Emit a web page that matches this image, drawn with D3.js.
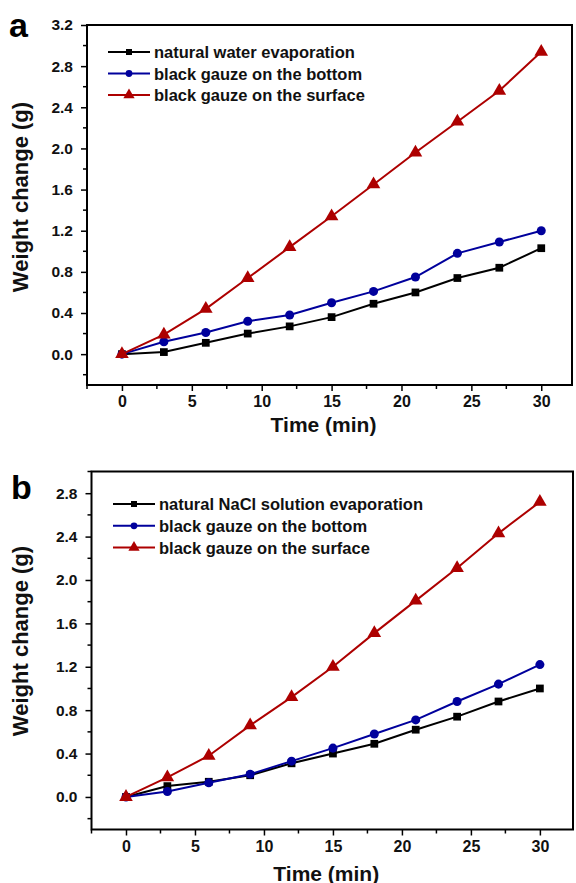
<!DOCTYPE html>
<html>
<head>
<meta charset="utf-8">
<script src="https://cdn.jsdelivr.net/npm/d3@7"></script>
<style>
  body { margin: 0; background: #fff; }
  svg { display: block; font-family: Arial, "Liberation Sans", sans-serif; }
</style>
</head>
<body>
<svg id="chart" width="576" height="883"></svg>
<script>
const timeMin = [0, 3, 6, 9, 12, 15, 18, 21, 24, 27, 30];

// panel a
const waterA = [0, 0.02, 0.11, 0.2, 0.27, 0.36, 0.49, 0.6, 0.74, 0.84, 1.03];
const bottomA = [0, 0.12, 0.21, 0.32, 0.38, 0.5, 0.61, 0.75, 0.98, 1.09, 1.2];
const surfaceA = [0, 0.19, 0.44, 0.74, 1.04, 1.34, 1.65, 1.96, 2.26, 2.56, 2.94];
const labelsA = ["natural water evaporation", "black gauze on the bottom", "black gauze on the surface"];

// panel b
const naclB = [0, 0.1, 0.14, 0.2, 0.31, 0.4, 0.49, 0.62, 0.74, 0.88, 1.0];
const bottomB = [0, 0.05, 0.13, 0.21, 0.33, 0.45, 0.58, 0.71, 0.88, 1.04, 1.22];
const surfaceB = [0, 0.18, 0.38, 0.66, 0.92, 1.2, 1.51, 1.81, 2.11, 2.43, 2.72];
const labelsB = ["natural NaCl solution evaporation", "black gauze on the bottom", "black gauze on the surface"];

const xTicks = [0, 5, 10, 15, 20, 25, 30];
const yTicksA = [0, 0.4, 0.8, 1.2, 1.6, 2.0, 2.4, 2.8, 3.2];
const yTicksB = [0, 0.4, 0.8, 1.2, 1.6, 2.0, 2.4, 2.8];

const colors = ["#000000", "#00009c", "#ad0000"];
const shapes = [d3.symbolSquare, d3.symbolCircle, d3.symbolTriangle];
const markerSize = [60, 64, 80];
const legendSize = [36, 36, 55];

const svg = d3.select("#chart");

function drawPanel(opt) {
  const g = svg.append("g");
  const x = d3.scaleLinear().domain(opt.xDomain).range(opt.xRange);
  const y = d3.scaleLinear().domain(opt.yDomain).range(opt.yRange);
  const [left, right] = opt.xRange;
  const [bottom, top] = opt.yRange;

  // minor ticks
  const xMinor = d3.range(-2.5, opt.xDomain[1] + 0.01, 2.5).filter(v => v % 5 !== 0);
  g.selectAll(".xminor").data(xMinor).enter().append("line")
    .attr("x1", d => x(d)).attr("x2", d => x(d))
    .attr("y1", bottom).attr("y2", bottom + 4)
    .attr("stroke", "#000").attr("stroke-width", 1.5);
  const yMinor = d3.range(-0.2, opt.yDomain[1] + 0.01, 0.4);
  g.selectAll(".yminor").data(yMinor).enter().append("line")
    .attr("x1", left - 4).attr("x2", left)
    .attr("y1", d => y(d)).attr("y2", d => y(d))
    .attr("stroke", "#000").attr("stroke-width", 1.5);

  // axes
  const xAxis = d3.axisBottom(x).tickValues(xTicks).tickSize(6).tickPadding(5).tickFormat(d3.format("d"));
  const yAxis = d3.axisLeft(y).tickValues(opt.yTicks).tickSize(6).tickPadding(8).tickFormat(d3.format(".1f"));
  const gx = g.append("g").attr("transform", `translate(0,${bottom})`).call(xAxis);
  const gy = g.append("g").attr("transform", `translate(${left},0)`).call(yAxis);
  [gx, gy].forEach(a => {
    a.select(".domain").remove();
    a.selectAll(".tick line").attr("stroke", "#000").attr("stroke-width", 1.5);
    a.selectAll("text").attr("fill", "#111").attr("font-weight", "bold")
      .attr("font-family", "Arial, 'Liberation Sans', sans-serif");
  });
  gx.selectAll("text").attr("font-size", 16);
  gy.selectAll("text").attr("font-size", 15.5);

  // frame
  g.append("rect")
    .attr("x", left).attr("y", top)
    .attr("width", right - left).attr("height", bottom - top)
    .attr("fill", "none").attr("stroke", "#000").attr("stroke-width", 2);

  // series
  const line = d3.line().x((d, i) => x(timeMin[i])).y(d => y(d));
  opt.series.forEach((s, k) => {
    g.append("path").datum(s)
      .attr("d", line).attr("fill", "none")
      .attr("stroke", colors[k]).attr("stroke-width", 2);
    g.selectAll(".m" + k).data(s).enter().append("path")
      .attr("transform", (d, i) => `translate(${x(timeMin[i])},${y(d)})`)
      .attr("d", d3.symbol().type(shapes[k]).size(markerSize[k]))
      .attr("fill", colors[k]);
  });

  // legend
  opt.labels.forEach((lab, k) => {
    const ly = opt.legend.y + k * opt.legend.dy;
    const lx = opt.legend.x;
    g.append("line")
      .attr("x1", lx).attr("x2", lx + 42)
      .attr("y1", ly).attr("y2", ly)
      .attr("stroke", colors[k]).attr("stroke-width", 2);
    g.append("path")
      .attr("transform", `translate(${lx + 21},${ly})`)
      .attr("d", d3.symbol().type(shapes[k]).size(legendSize[k]))
      .attr("fill", colors[k]);
    g.append("text")
      .attr("x", lx + 46).attr("y", ly + 6)
      .attr("font-size", 16.5).attr("font-weight", "bold")
      .attr("fill", "#111")
      .text(lab);
  });

  // axis titles
  g.append("text")
    .attr("x", (left + right) / 2 - 6).attr("y", bottom + opt.xTitleOffset)
    .attr("text-anchor", "middle")
    .attr("font-size", 21).attr("font-weight", "bold").attr("fill", "#111")
    .text("Time (min)");
  g.append("text")
    .attr("transform", `translate(28,${opt.yTitleY}) rotate(-90)`)
    .attr("text-anchor", "middle")
    .attr("font-size", 22).attr("font-weight", "bold").attr("fill", "#111")
    .text("Weight change (g)");

  g.append("text")
    .attr("x", opt.letter[0]).attr("y", opt.letter[1])
    .attr("font-size", 34).attr("font-weight", "bold").attr("fill", "#000")
    .text(opt.letterText);
}

drawPanel({
  xDomain: [-2.5, 32.2], xRange: [87, 572],
  yDomain: [-0.3, 3.2], yRange: [385, 25],
  yTicks: yTicksA,
  series: [waterA, bottomA, surfaceA],
  labels: labelsA,
  legend: { x: 108, y: 52, dy: 21.5 },
  xTitleOffset: 47, yTitleY: 197,
  letter: [9, 37], letterText: "a"
});

drawPanel({
  xDomain: [-2.5, 32.4], xRange: [91.5, 573],
  yDomain: [-0.3, 3.0], yRange: [829.5, 471.5],
  yTicks: yTicksB,
  series: [naclB, bottomB, surfaceB],
  labels: labelsB,
  legend: { x: 113, y: 504, dy: 21.8 },
  xTitleOffset: 51, yTitleY: 641,
  letter: [11, 499], letterText: "b"
});
</script>
</body>
</html>
